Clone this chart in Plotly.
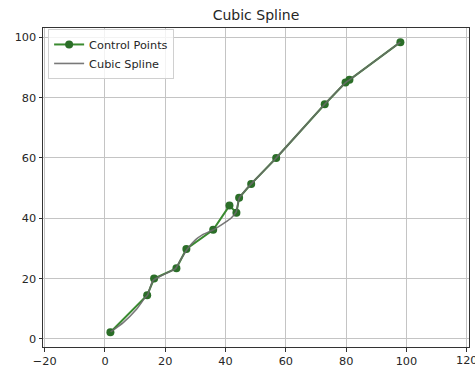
import plotly.graph_objects as go

# Control points
ctrl_x = [1.8, 14.0, 16.3, 23.7, 27.0, 35.9, 41.3, 43.6, 44.5, 48.5, 56.8, 72.9, 79.8, 81.1, 98.0]
ctrl_y = [2.2, 14.5, 20.0, 23.4, 29.8, 36.2, 44.2, 41.8, 46.8, 51.4, 60.0, 77.8, 85.0, 85.9, 98.4]

# Cubic spline curve
spl_x = [1.85, 6.06, 10.46, 13.25, 14.1, 15.0, 16.0, 19.6, 23.5, 24.9, 27.35, 30.1, 32.3, 36.0,
         39.5, 41.8, 43.5, 44.5, 46.5, 48.5, 56.8, 72.9, 79.8, 81.1, 98.0]
spl_y = [2.3, 5.4, 9.8, 13.6, 14.5, 17.0, 19.4, 21.4, 23.4, 25.9, 29.8, 32.9, 34.5, 36.2,
         38.4, 40.0, 42.0, 46.6, 49.2, 51.4, 60.0, 77.8, 85.0, 85.9, 98.4]

x_ticks = [-20, 0, 20, 40, 60, 80, 100]
x_tick_labels = ["\u221220", "0", "20", "40", "60", "80", "100"]
x_edge_tick = 120
x_edge_label = "120"
y_ticks = [0, 20, 40, 60, 80, 100]
y_tick_labels = ["0", "20", "40", "60", "80", "100"]

FONT = "DejaVu Sans"
TXT = "#262626"

fig = go.Figure()
fig.add_trace(go.Scatter(
    x=ctrl_x, y=ctrl_y, mode="lines+markers", name="Control Points",
    line=dict(color="#3a8a30", width=2),
    marker=dict(color="#2b6e28", size=8),
))
fig.add_trace(go.Scatter(
    x=spl_x, y=spl_y, mode="lines", name="Cubic Spline",
    line=dict(color="#6a6a6a", width=1.6, shape="spline", smoothing=0.6),
    opacity=0.9,
))

axis_common = dict(
    showline=True, mirror=True, linecolor="#333333", linewidth=1,
    showgrid=True, gridcolor="#c4c4c4", gridwidth=1,
    ticks="outside", ticklen=3.5, tickwidth=1, tickcolor="#333333",
    zeroline=False,
    tickfont=dict(family=FONT, size=11.3, color=TXT),
)

fig.update_layout(
    width=475, height=373,
    margin=dict(l=43, r=5, t=28, b=23),
    paper_bgcolor="white", plot_bgcolor="white",
    font=dict(family=FONT, size=11.3, color=TXT),
    title=dict(text="Cubic Spline", x=0.5, xref="paper", xanchor="center",
               y=1 - 15 / 373, yref="container", yanchor="middle",
               font=dict(family=FONT, size=14, color=TXT)),
    xaxis=dict(range=[-20.56, 120.76], tickvals=x_ticks + [x_edge_tick],
               ticktext=x_tick_labels + [""], **axis_common),
    yaxis=dict(range=[-2.7, 103.1], tickvals=y_ticks, ticktext=y_tick_labels, **axis_common),
    legend=dict(x=0.012, y=0.997, xanchor="left", yanchor="top",
                bgcolor="rgba(255,255,255,0.8)", bordercolor="#d0d0d0", borderwidth=1,
                font=dict(family=FONT, size=11.3, color=TXT),
                tracegroupgap=0),
    showlegend=True,
)

# The last x tick label is clipped by the page edge in the reference
fig.add_annotation(x=x_edge_tick, xref="x", y=0, yref="paper", yanchor="top",
                   yshift=-5, text=x_edge_label, showarrow=False,
                   font=dict(family=FONT, size=11.3, color=TXT))

fig.write_html("out.html")
